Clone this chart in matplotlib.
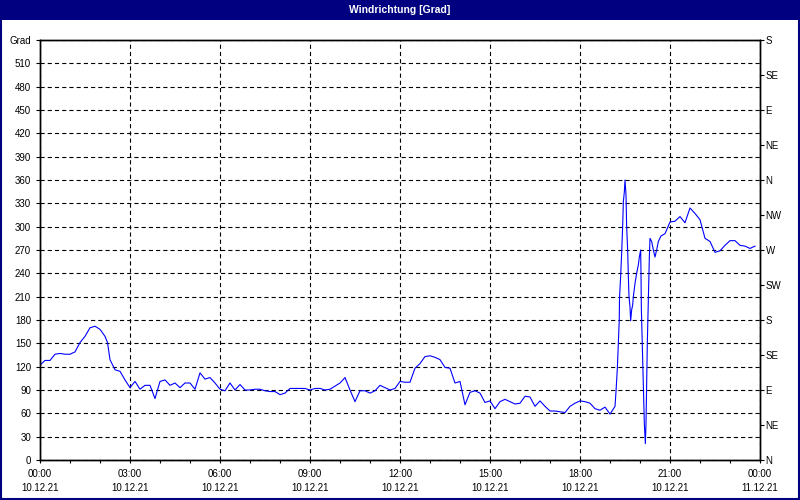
"""
Windrichtung [Grad] - wind direction over one day (10.12.21), redrawn with matplotlib.
"""

import numpy as np
import matplotlib
matplotlib.use("Agg")
import matplotlib.pyplot as plt
from matplotlib.patches import Rectangle

# ---------------------------------------------------------------------------
# Data (minutes since 00:00 on 10.12.21, direction in degrees)
# ---------------------------------------------------------------------------
minutes_a = [0, 10, 20, 30, 40, 50, 60, 70, 80, 90, 100, 110, 120, 130, 135,
             140, 150, 160, 170, 180, 190, 200, 210, 220, 230, 240, 250, 260,
             270, 280, 290, 300, 310, 320, 330, 340, 350, 360, 370, 380, 390,
             400, 410, 420, 430, 440, 450, 460, 470, 480]
degrees_a = [122, 128, 128, 136, 137, 136, 136, 139, 151, 159, 170, 172, 168,
             159, 151, 129, 116, 114, 103, 93, 101, 91, 96, 96, 79, 101, 103,
             96, 99, 93, 99, 99, 91, 112, 104, 106, 99, 91, 89, 99, 90, 97,
             90, 90, 91, 91, 89, 88, 88, 84]

minutes_b = [490, 500, 510, 520, 530, 540, 550, 560, 570, 580, 590, 600, 610,
             620, 630, 640, 650, 660, 670, 680, 690, 700, 710, 720, 730, 740,
             750, 760, 770, 780, 790, 800, 810, 820, 830, 840, 850, 860, 870,
             880, 890, 900, 910, 920, 930, 940, 950, 960, 970, 980, 990, 1000,
             1010, 1020, 1030, 1040, 1050, 1060, 1070, 1080]
degrees_b = [86, 92, 92, 92, 92, 90, 92, 92, 90, 91, 95, 99, 106, 90, 75, 89,
             89, 86, 89, 96, 93, 90, 92, 101, 100, 100, 118, 124, 133, 134,
             132, 129, 119, 118, 99, 101, 71, 87, 89, 86, 74, 76, 66, 75, 78,
             75, 72, 73, 82, 81, 69, 76, 69, 63, 63, 62, 61, 69, 73, 76]

# evening: the wind swings round sharply, the logger samples densely here
minutes_c = [1090, 1100, 1110, 1120, 1130, 1140, 1150, 1152, 1154.7, 1156.7,
             1158.5, 1159, 1161.3, 1163.3, 1165.3, 1166.7, 1168.7, 1170, 1172,
             1173.3, 1175.3, 1176.7, 1178, 1180, 1181.3, 1183.3, 1185.3,
             1186.7, 1190, 1193.3, 1196.7, 1198.7, 1201.3, 1202, 1202.7,
             1204.7, 1206.7, 1208.7, 1210.7, 1212, 1213.3, 1214.7, 1216.7,
             1218.7, 1220, 1223.3, 1226.7, 1230, 1233.3, 1236.7, 1242, 1250,
             1260, 1270, 1280, 1290, 1300, 1310, 1320, 1330, 1340, 1350, 1360,
             1370, 1380, 1390, 1400, 1410, 1420, 1430]
degrees_c = [75, 73, 66, 64, 68, 59, 69, 88, 118, 150,
             180, 208, 236, 266, 300, 332, 345, 360, 341,
             300, 270, 236, 210, 197, 179, 193, 199,
             210, 227, 240, 251, 261, 270, 240, 195,
             144, 94, 46, 21, 47, 101, 152, 206,
             261, 285, 281, 270, 261, 270, 281, 288, 291,
             306, 307, 313, 305, 324, 317, 309, 285, 281, 267, 269,
             276, 282, 282, 276, 275, 272, 275]

y_ticks = list(range(0, 541, 30))
y_labels = [str(v) for v in y_ticks[:-1]] + ["Grad"]
compass_ticks = list(range(0, 541, 45))
compass_labels = ["N", "NE", "E", "SE", "S", "SW", "W", "NW",
                  "N", "NE", "E", "SE", "S"]
x_major_hours = [0, 3, 6, 9, 12, 15, 18, 21, 24]
x_labels = ["00:00\n10.12.21", "03:00\n10.12.21", "06:00\n10.12.21",
            "09:00\n10.12.21", "12:00\n10.12.21", "15:00\n10.12.21",
            "18:00\n10.12.21", "21:00\n10.12.21", "00:00\n11.12.21"]

TITLE = "Windrichtung [Grad]"
NAVY = "#000080"

# ---------------------------------------------------------------------------
# Plot
# ---------------------------------------------------------------------------
plt.rcParams["font.family"] = ["Liberation Sans", "DejaVu Sans"]
plt.rcParams["font.size"] = 7
plt.rcParams["lines.scale_dashes"] = False

hours = np.array(minutes_a + minutes_b + minutes_c) / 60.0
degrees = np.array(degrees_a + degrees_b + degrees_c)

fig = plt.figure(figsize=(8, 5), dpi=100)
fig.patch.set_facecolor("white")

# title bar + window border
fig.patches.append(Rectangle((0, 0.96), 1, 0.04, transform=fig.transFigure,
                             facecolor=NAVY, edgecolor="none", zorder=0))
fig.patches.append(Rectangle((0.001, 0.002), 0.998, 0.997, transform=fig.transFigure,
                             facecolor="none", edgecolor=NAVY, linewidth=1.5, zorder=1))
fig.text(0.5, 0.98, TITLE, color="white", fontweight="bold", fontsize=7.5,
         ha="center", va="center")

ax = fig.add_axes([0.05, 0.08, 0.9, 0.84])
ax.plot(hours, degrees, color="#0000ff", linewidth=0.8, zorder=3)

ax.set_xlim(0, 24)
ax.set_ylim(0, 540)

ax.set_xticks(x_major_hours)
ax.set_xticklabels(x_labels, linespacing=1.55)
ax.set_xticks(range(0, 25), minor=True)
ax.set_yticks(y_ticks)
ax.set_yticklabels(y_labels)

ax.tick_params(axis="x", which="both", direction="out", length=2.5, width=0.8,
               pad=4)
ax.tick_params(axis="y", direction="out", length=3, width=0.8, pad=3.5)

ax.grid(True, which="major", color="black", linewidth=0.8,
        linestyle=(0, (3, 2.2)))

for sp in ax.spines.values():
    sp.set_linewidth(1.0)
    sp.set_color("black")

# right compass axis
ax2 = ax.twinx()
ax2.set_ylim(0, 540)
ax2.set_yticks(compass_ticks)
ax2.set_yticklabels(compass_labels)
ax2.tick_params(axis="y", direction="out", length=3, width=0.8, pad=1)
for sp in ax2.spines.values():
    sp.set_linewidth(1.0)

fig.savefig("out.png", dpi=100)
plt.close(fig)
